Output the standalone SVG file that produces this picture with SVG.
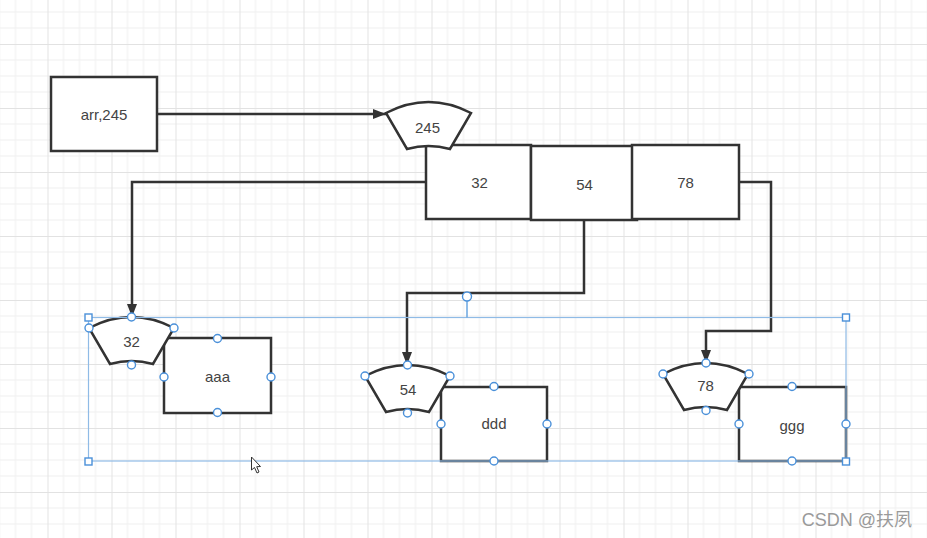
<svg xmlns="http://www.w3.org/2000/svg" width="927" height="538" viewBox="0 0 927 538">
  <style>
    .box { fill: #ffffff; stroke: #333333; stroke-width: 2.5; }
    .sec { fill: #ffffff; stroke: #333333; stroke-width: 2.5; stroke-linejoin: miter; }
    .lbl { font-family: "Liberation Sans", Arial, sans-serif; font-size: 15px; fill: #444444; text-anchor: middle; }
    .wire { fill: none; stroke: #333333; stroke-width: 2.5; }
    .hdl { fill: #ffffff; stroke: #4a90d9; stroke-width: 1.4; }
    .sel { fill: none; stroke: #8fbbe6; stroke-width: 1.2; }
    .wm { font-family: "Liberation Sans", Arial, "Noto Sans CJK SC", sans-serif; font-size: 18px; fill: #9a9a9a; text-anchor: end; }
  </style>
  <defs>
    <pattern id="grid" patternUnits="userSpaceOnUse" x="47.5" y="44" width="64" height="64">
      <path d="M16,0 V64 M32,0 V64 M48,0 V64 M0,16 H64 M0,32 H64 M0,48 H64" stroke="#efefef" stroke-width="1" fill="none"/>
      <path d="M0.5,0 V64 M0,0.5 H64" stroke="#e2e2e2" stroke-width="1" fill="none"/>
    </pattern>
    <path id="sector" d="M0,11 Q42.5,-11 85,11 L64,47 Q42.5,41 21,47 Z"/>
    <marker id="arr" markerUnits="userSpaceOnUse" markerWidth="14" markerHeight="12" refX="13" refY="6" orient="auto">
      <path d="M0,1 L13,6 L0,11 Z" fill="#333333"/>
    </marker>
  </defs>

  <rect x="0" y="0" width="927" height="538" fill="#ffffff"/>
  <rect x="0" y="0" width="927" height="538" fill="url(#grid)"/>

  <g id="connectors">
    <path class="wire" d="M157,114 H386" marker-end="url(#arr)"/>
    <path class="wire" d="M426,182 H132 V317" marker-end="url(#arr)"/>
    <path class="wire" d="M584,220 V293 H407 V365" marker-end="url(#arr)"/>
    <path class="wire" d="M739,182 H771 V331 H706 V363" marker-end="url(#arr)"/>
  </g>

  <g id="node-arr">
    <rect class="box" x="51" y="77" width="106" height="74"/>
    <text class="lbl" x="104" y="119.5">arr,245</text>
  </g>

  <g id="node-32">
    <rect class="box" x="426" y="145" width="105" height="74"/>
    <text class="lbl" x="479.5" y="188">32</text>
  </g>
  <g id="node-54">
    <rect class="box" x="531" y="146" width="106" height="74"/>
    <text class="lbl" x="584.5" y="189.5">54</text>
  </g>
  <g id="node-78">
    <rect class="box" x="632" y="145" width="107" height="74"/>
    <text class="lbl" x="685.5" y="188">78</text>
  </g>

  <g id="node-245">
    <use href="#sector" class="sec" x="386" y="102"/>
    <text class="lbl" x="427.5" y="132.5">245</text>
  </g>

  <g id="node-aaa">
    <rect class="box" x="164" y="338" width="107" height="75"/>
    <text class="lbl" x="217.5" y="381.5">aaa</text>
  </g>
  <g id="node-s32">
    <use href="#sector" class="sec" x="89" y="317"/>
    <text class="lbl" x="131.5" y="346.5">32</text>
  </g>

  <g id="node-ddd">
    <rect class="box" x="441" y="387" width="106" height="74"/>
    <text class="lbl" x="494" y="428.5">ddd</text>
  </g>
  <g id="node-s54">
    <use href="#sector" class="sec" x="365" y="365"/>
    <text class="lbl" x="408" y="395">54</text>
  </g>

  <g id="node-ggg">
    <rect class="box" x="739" y="387" width="107" height="74"/>
    <text class="lbl" x="792" y="430.5">ggg</text>
  </g>
  <g id="node-s78">
    <use href="#sector" class="sec" x="663" y="363"/>
    <text class="lbl" x="705.5" y="390.5">78</text>
  </g>

  <g id="selection">
    <rect class="sel" x="88.5" y="317.5" width="757.5" height="143.5"/>
    <line x1="467" y1="301" x2="467" y2="317.5" stroke="#6aa6e0" stroke-width="1.5"/>
    <circle class="hdl" cx="467" cy="296.5" r="4.5" stroke-width="1.8"/>
    <rect class="hdl" x="85" y="314" width="7" height="7"/>
    <rect class="hdl" x="842.5" y="314" width="7" height="7"/>
    <rect class="hdl" x="85" y="458" width="7" height="7"/>
    <rect class="hdl" x="842.5" y="458" width="7" height="7"/>
    <circle class="hdl" cx="89" cy="328" r="4"/>
    <circle class="hdl" cx="131.5" cy="317" r="4"/>
    <circle class="hdl" cx="174" cy="328" r="4"/>
    <circle class="hdl" cx="131.5" cy="365" r="4"/>
    <circle class="hdl" cx="217.5" cy="338.5" r="4"/>
    <circle class="hdl" cx="164" cy="377" r="4"/>
    <circle class="hdl" cx="271" cy="377" r="4"/>
    <circle class="hdl" cx="217.5" cy="412.5" r="4"/>
    <circle class="hdl" cx="365" cy="376" r="4"/>
    <circle class="hdl" cx="407.5" cy="365" r="4"/>
    <circle class="hdl" cx="450" cy="376" r="4"/>
    <circle class="hdl" cx="407.5" cy="413" r="4"/>
    <circle class="hdl" cx="494" cy="386.5" r="4"/>
    <circle class="hdl" cx="441" cy="424" r="4"/>
    <circle class="hdl" cx="547" cy="424" r="4"/>
    <circle class="hdl" cx="494" cy="461" r="4"/>
    <circle class="hdl" cx="663" cy="374" r="4"/>
    <circle class="hdl" cx="706" cy="363" r="4"/>
    <circle class="hdl" cx="749" cy="374" r="4"/>
    <circle class="hdl" cx="706" cy="410.5" r="4"/>
    <circle class="hdl" cx="792" cy="386.5" r="4"/>
    <circle class="hdl" cx="739" cy="424" r="4"/>
    <circle class="hdl" cx="846" cy="424" r="4"/>
    <circle class="hdl" cx="792" cy="461" r="4"/>
  </g>

  <path d="M251.5,457 L251.5,470 L254.5,467.5 L257,473 L259,472 L256.7,466.7 L260.5,466.5 Z" fill="#ffffff" stroke="#333333" stroke-width="1" stroke-linejoin="round"/>

  <text class="wm" x="912" y="526">CSDN @扶夙</text>
</svg>
